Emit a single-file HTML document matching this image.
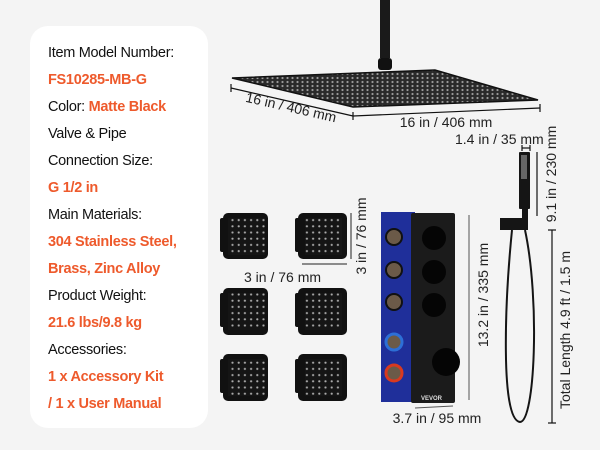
<!DOCTYPE html>
<html><head><meta charset="utf-8"><style>
html,body{margin:0;padding:0;background:#f4f4f4;}
svg{display:block;font-family:"Liberation Sans",sans-serif;}
.t{font-size:14.5px;fill:#111;letter-spacing:-0.3px}
.o{font-size:14.5px;fill:#ee5a2c;font-weight:bold;letter-spacing:-0.3px}
.d{font-size:14px;fill:#222}
</style></head><body>
<svg width="600" height="450" viewBox="0 0 600 450">
<defs>
<pattern id="dots" width="6.2" height="6.2" patternUnits="userSpaceOnUse"><rect width="6.2" height="6.2" fill="#151515"/><circle cx="3.1" cy="3.1" r="1.1" fill="#aaa"/></pattern>
<pattern id="sd" width="5" height="4" patternUnits="userSpaceOnUse"><rect width="5" height="4" fill="#2a2a2a"/><circle cx="2.5" cy="2" r="1.1" fill="#9a9a9a"/></pattern>
</defs>
<rect x="0" y="0" width="600" height="450" fill="#f4f4f4"/>
<rect x="30" y="26" width="178" height="402" rx="18" fill="#fff"/>
<text class="t" x="48" y="57">Item Model Number:</text>
<text class="o" x="48" y="84">FS10285-MB-G</text>
<text class="t" x="48" y="111">Color: <tspan class="o">Matte Black</tspan></text>
<text class="t" x="48" y="138">Valve &amp; Pipe</text>
<text class="t" x="48" y="165">Connection Size:</text>
<text class="o" x="48" y="192">G 1/2 in</text>
<text class="t" x="48" y="219">Main Materials:</text>
<text class="o" x="48" y="246">304 Stainless Steel,</text>
<text class="o" x="48" y="273">Brass, Zinc Alloy</text>
<text class="t" x="48" y="300">Product Weight:</text>
<text class="o" x="48" y="327">21.6 lbs/9.8 kg</text>
<text class="t" x="48" y="354">Accessories:</text>
<text class="o" x="48" y="381">1 x Accessory Kit</text>
<text class="o" x="48" y="408">/ 1 x User Manual</text>

<!-- rain shower -->
<rect x="380" y="0" width="10" height="58" fill="#1a1a1a"/>
<rect x="378" y="58" width="14" height="12" rx="3" fill="#111"/>
<polygon points="232,78 435,70 538,100 353,107" fill="url(#sd)" stroke="#111" stroke-width="1.5"/>
<g stroke="#111" stroke-width="1.2" fill="none">
<line x1="231" y1="88" x2="353" y2="116"/><line x1="231" y1="84" x2="231" y2="92"/>
<line x1="353" y1="116" x2="540" y2="108"/><line x1="353" y1="112" x2="353" y2="120"/><line x1="540" y1="104" x2="540" y2="112"/>
</g>
<text class="d" transform="translate(290,112) rotate(13)" text-anchor="middle">16 in / 406 mm</text>
<text class="d" x="446" y="127" text-anchor="middle">16 in / 406 mm</text>
<text class="d" x="455" y="144">1.4 in / 35 mm</text>

<!-- body sprays -->
<g fill="#111">
<rect x="220" y="218" width="8" height="34" rx="2"/><rect x="295" y="218" width="8" height="34" rx="2"/>
<rect x="220" y="293" width="8" height="34" rx="2"/><rect x="295" y="293" width="8" height="34" rx="2"/>
<rect x="220" y="359" width="8" height="34" rx="2"/><rect x="295" y="359" width="8" height="34" rx="2"/>
<rect x="223" y="213" width="45" height="46" rx="5"/><rect x="298" y="213" width="49" height="46" rx="5"/>
<rect x="223" y="288" width="45" height="47" rx="5"/><rect x="298" y="288" width="49" height="47" rx="5"/>
<rect x="223" y="354" width="45" height="47" rx="5"/><rect x="298" y="354" width="49" height="47" rx="5"/>
</g>
<g fill="url(#dots)">
<rect x="228" y="218" width="37" height="37"/><rect x="305" y="218" width="37" height="37"/>
<rect x="228" y="293" width="37" height="37"/><rect x="305" y="293" width="37" height="37"/>
<rect x="228" y="359" width="37" height="37"/><rect x="305" y="359" width="37" height="37"/>
</g>
<g stroke="#222" stroke-width="1" fill="none">
<line x1="351" y1="213" x2="351" y2="259"/><line x1="302" y1="264" x2="347" y2="264"/>
</g>
<text class="d" x="244" y="282">3 in / 76 mm</text>
<text class="d" transform="translate(366,236) rotate(-90)" text-anchor="middle">3 in / 76 mm</text>

<!-- valve -->
<rect x="381" y="212" width="34" height="190" fill="#1f2f9a"/>
<rect x="411" y="213" width="44" height="190" rx="2" fill="#1b1b1b"/>
<g fill="#6b5a48" stroke="#111" stroke-width="2">
<circle cx="394" cy="237" r="8"/><circle cx="394" cy="270" r="8"/><circle cx="394" cy="302" r="8"/>
</g>
<circle cx="394" cy="342" r="8" fill="#6b5a48" stroke="#2d6fd6" stroke-width="3"/>
<circle cx="394" cy="373" r="8" fill="#6b5a48" stroke="#d83a20" stroke-width="3"/>
<g fill="#050505"><circle cx="434" cy="238" r="12"/><circle cx="434" cy="272" r="12"/><circle cx="434" cy="305" r="12"/><circle cx="446" cy="362" r="14"/></g>
<text x="421" y="400" font-size="6" fill="#ddd" font-weight="bold">VEVOR</text>
<g stroke="#555" stroke-width="1"><line x1="469" y1="215" x2="469" y2="400"/><line x1="415" y1="408" x2="453" y2="406"/></g>
<text class="d" transform="translate(488,295) rotate(-90)" text-anchor="middle">13.2 in / 335 mm</text>
<text class="d" x="437" y="423" text-anchor="middle">3.7 in / 95 mm</text>

<!-- hand shower -->
<rect x="519" y="152" width="11" height="57" rx="1" fill="#151515"/>
<rect x="521" y="155" width="6" height="24" fill="#666"/>
<rect x="522" y="209" width="6" height="12" fill="#151515"/>
<rect x="500" y="218" width="28" height="12" fill="#151515"/>
<path d="M512 230 C505 300 500 420 520 422 C535 422 540 300 525 230" fill="none" stroke="#151515" stroke-width="2"/>
<g stroke="#111" stroke-width="1.2">
<line x1="537" y1="152" x2="537" y2="216"/><line x1="522" y1="148" x2="530" y2="148"/><line x1="522" y1="145" x2="522" y2="151"/><line x1="530" y1="145" x2="530" y2="151"/>
<line x1="552" y1="230" x2="552" y2="423"/><line x1="548" y1="230" x2="556" y2="230"/><line x1="548" y1="423" x2="556" y2="423"/>
</g>
<text class="d" transform="translate(556,174) rotate(-90)" text-anchor="middle">9.1 in / 230 mm</text>
<text class="d" transform="translate(570,330) rotate(-90)" text-anchor="middle">Total Length 4.9 ft / 1.5 m</text>
</svg>
</body></html>
